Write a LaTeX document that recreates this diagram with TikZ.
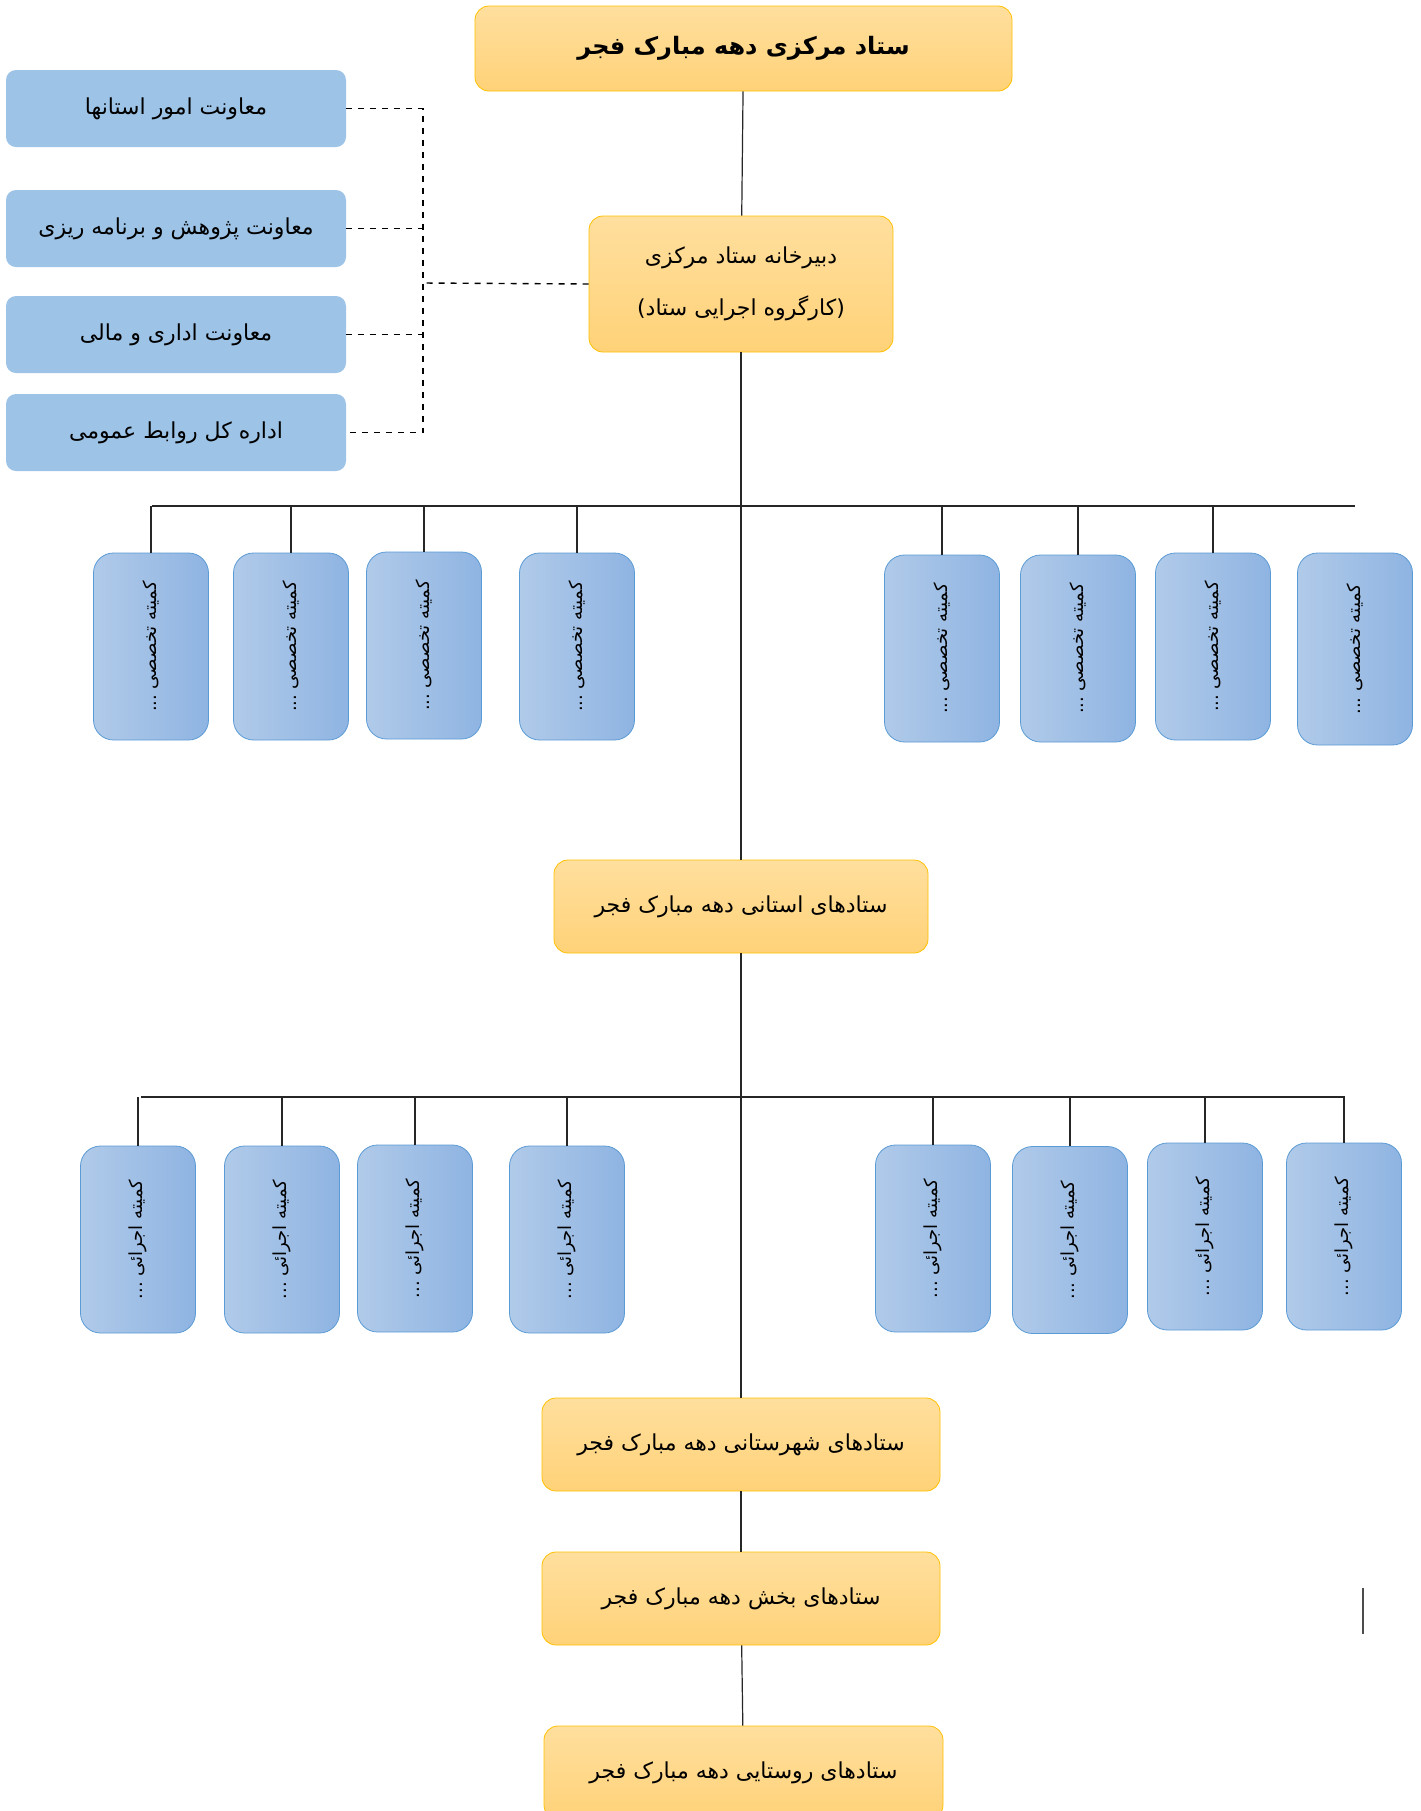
\documentclass[tikz,border=0pt]{standalone}
\usepackage{fontspec}
\usepackage{graphicx}
\usepackage{tikz}
\usetikzlibrary{positioning}
\TeXXeTstate=1
\newfontfamily\fa[Script=Arabic]{DejaVu Sans}
\newcommand{\fatxt}[1]{{\fa\beginR #1\endR}}
\newcommand{\takhasosi}{\rotatebox{90}{\fatxt{کمیته تخصصی ...}}}
\newcommand{\ejraei}{\rotatebox{90}{\fatxt{کمیته اجرائی ...}}}
\definecolor{narenjiBala}{RGB}{255,223,158}
\definecolor{narenjiPain}{RGB}{255,210,120}
\definecolor{narenjiKhat}{RGB}{255,192,0}
\definecolor{abiRoshan}{RGB}{157,195,230}
\definecolor{abiChap}{RGB}{176,202,233}
\definecolor{abiRast}{RGB}{143,180,226}
\definecolor{abiKhat}{RGB}{91,155,213}

\begin{document}
\begin{tikzpicture}[
	x=0.5pt, y=-0.5pt,
	stad/.style={
		draw=narenjiKhat,
		rounded corners=7pt,
		top color=narenjiBala,
		bottom color=narenjiPain,
		font = \fontsize{11}{14}\selectfont,
		align=center,
		inner sep=2pt,
		minimum height=46.5pt
	},
	moavenat/.style={
		fill=abiRoshan,
		rounded corners=5pt,
		font = \fontsize{11}{14}\selectfont,
		minimum width=170pt,
		minimum height=38.5pt
	},
	komite/.style={
		draw=abiKhat,
		rounded corners=10pt,
		left color=abiChap,
		right color=abiRast,
		font = \fontsize{9}{11}\selectfont,
		inner sep=0pt,
		minimum width=57.5pt,
		minimum height=93.5pt
	},
	link/.style={black!85, line width=0.6pt},
	dashlink/.style={black, dashed, line width=0.7pt}
	]
	\useasboundingbox (0,0) rectangle (1420,1811);
	
	% setad markazi va dabirkhane
	\node[stad, minimum width=268.5pt, minimum height=42.5pt,
		font=\fontsize{12}{15}\selectfont\bfseries] at (743.5,48.5)
		(hq) {\fatxt{ستاد مرکزی دهه مبارک فجر}};
	\node[stad, minimum width=152pt, minimum height=68pt] at (741,284)
		(dab) {\fatxt{دبیرخانه ستاد مرکزی}\\[12pt]\fatxt{(کارگروه اجرایی ستاد)}};
	
	% moavenat-ha
	\node[moavenat] at (176,108.5) (m1) {\fatxt{معاونت امور استانها}};
	\node[moavenat] at (176,228.5) (m2) {\fatxt{معاونت پژوهش و برنامه ریزی}};
	\node[moavenat] at (176,334.5) (m3) {\fatxt{معاونت اداری و مالی}};
	\node[moavenat] at (176,432.5) (m4) {\fatxt{اداره کل روابط عمومی}};
	\coordinate (j) at (423,283);
	
	% komite-haye takhasosi
	\node[komite] at (151,646.5) (t1) {\takhasosi};
	\node[komite] at (291,646.5) (t2) {\takhasosi};
	\node[komite] at (424,645.5) (t3) {\takhasosi};
	\node[komite] at (577,646.5) (t4) {\takhasosi};
	\node[komite] at (942,648.5) (t5) {\takhasosi};
	\node[komite] at (1078,648.5) (t6) {\takhasosi};
	\node[komite] at (1213,646.5) (t7) {\takhasosi};
	\node[komite, minimum height=96pt] at (1355,649) (t8) {\takhasosi};
	\coordinate (b1l) at (152,506);
	\coordinate (b1r) at (1355,506);
	
	% setad ostani
	\node[stad, minimum width=187pt] at (741,906.5)
		(ost) {\fatxt{ستادهای استانی دهه مبارک فجر}};
	
	% komite-haye ejraei
	\node[komite] at (138,1239.5) (e1) {\ejraei};
	\node[komite] at (282,1239.5) (e2) {\ejraei};
	\node[komite] at (415,1238.5) (e3) {\ejraei};
	\node[komite] at (567,1239.5) (e4) {\ejraei};
	\node[komite] at (933,1238.5) (e5) {\ejraei};
	\node[komite] at (1070,1240) (e6) {\ejraei};
	\node[komite] at (1205,1236.5) (e7) {\ejraei};
	\node[komite] at (1344,1236.5) (e8) {\ejraei};
	\coordinate (b2l) at (141,1097);
	\coordinate (b2r) at (1345,1097);
	
	% shahrestan, bakhsh, rusta
	\node[stad, minimum width=199pt] at (741,1444.5)
		(shahr) {\fatxt{ستادهای شهرستانی دهه مبارک فجر}};
	\node[stad, minimum width=199pt] at (741,1598.5)
		(bakhsh) {\fatxt{ستادهای بخش دهه مبارک فجر}};
	\node[stad, minimum width=199.5pt] at (743.5,1772.5)
		(rusta) {\fatxt{ستادهای روستایی دهه مبارک فجر}};
	
	\draw[link] (hq) -- (dab);
	\draw[link] (dab) -- (ost);
	\draw[link] (ost) -- (shahr);
	\draw[link] (shahr) -- (bakhsh);
	\draw[link] (bakhsh) -- (rusta);
	
	\draw[dashlink] (m1.east) -- (m1.east -| j) -- (m4.east -| j) -- (m4.east);
	\draw[dashlink] (m2.east) -- (m2.east -| j);
	\draw[dashlink] (m3.east) -- (m3.east -| j);
	\draw[dashlink] (dab.west) -- (j);
	
	\draw[link] (b1l) -- (b1r);
	\draw[link] (t1.north) -- (t1.north |- b1l);
	\draw[link] (t2.north) -- (t2.north |- b1l);
	\draw[link] (t3.north) -- (t3.north |- b1l);
	\draw[link] (t4.north) -- (t4.north |- b1l);
	\draw[link] (t5.north) -- (t5.north |- b1l);
	\draw[link] (t6.north) -- (t6.north |- b1l);
	\draw[link] (t7.north) -- (t7.north |- b1l);
	
	\draw[link] (b2l) -- (b2r);
	\draw[link] (e1.north) -- (e1.north |- b2l);
	\draw[link] (e2.north) -- (e2.north |- b2l);
	\draw[link] (e3.north) -- (e3.north |- b2l);
	\draw[link] (e4.north) -- (e4.north |- b2l);
	\draw[link] (e5.north) -- (e5.north |- b2l);
	\draw[link] (e6.north) -- (e6.north |- b2l);
	\draw[link] (e7.north) -- (e7.north |- b2l);
	\draw[link] (e8.north) -- (e8.north |- b2l);
	
	\draw[black!70, line width=1pt] (1363,1588) -- (1363,1634);
	
\end{tikzpicture}
\end{document}
